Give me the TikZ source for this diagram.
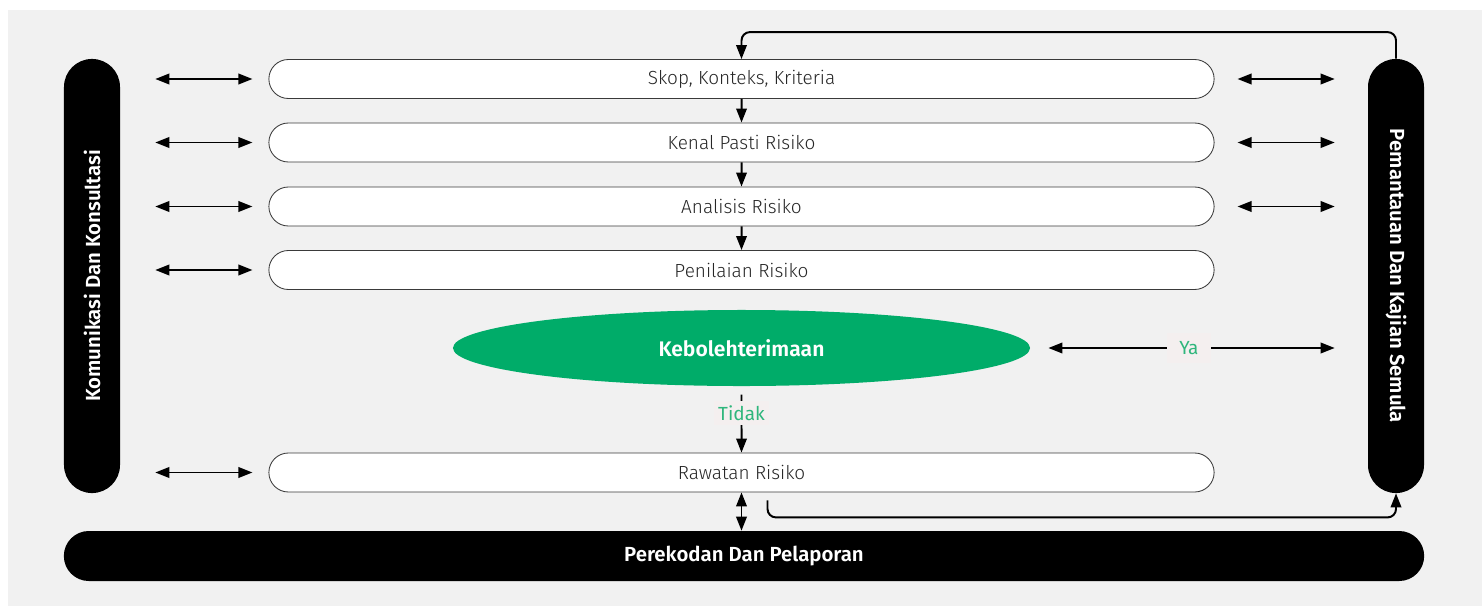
\documentclass[tikz,border=0pt]{standalone}
\usepackage{fontspec}
\setmainfont{Fira Sans}[UprightFont=* Light, BoldFont=* SemiBold]
\newfontfamily\answerfont{Fira Sans}
\usetikzlibrary{arrows.meta, shapes.misc, shapes.geometric, positioning}
\usepackage{xcolor}
\definecolor{panelgray}{HTML}{F1F1F1}
\definecolor{acceptgreen}{HTML}{00AC69}
\definecolor{answergreen}{HTML}{2FB67C}
\definecolor{answerbg}{HTML}{F4EFEF}
\definecolor{rimgray}{HTML}{3A3A3A}

\begin{document}
\begin{tikzpicture}[x=0.025cm, y=-0.025cm]
        % Define the styles
        \tikzstyle{stage}=[rounded rectangle, draw=rimgray, line width=0.6pt, fill=white, text=black!85, minimum width=23.625cm, minimum height=0.975cm, inner sep=0pt, font=\fontsize{13.5}{16}\selectfont]
        \tikzstyle{band}=[rounded rectangle, fill=black, text=white, inner sep=0pt, font=\bfseries\fontsize{14.5}{17}\selectfont]
        \tikzstyle{link}=[line width=1.4pt, -{Triangle[length=10pt, width=7.5pt]}]
        \tikzstyle{twoway}=[line width=1.4pt, {Triangle[length=10pt, width=7.5pt]}-{Triangle[length=10pt, width=7.5pt]}]
        \tikzstyle{answer}=[fill=answerbg, text=answergreen, inner sep=3pt, font=\answerfont\fontsize{13.5}{16}\selectfont]

        % Panel and page size
        \useasboundingbox (0,0) rectangle (1482,606);
        \fill[panelgray] (8,10) rectangle (1482,606);

        % Side and bottom bands
        \node (kom)[band, minimum width=10.85cm, minimum height=1.4cm, rotate=90] at (92,276) {Komunikasi Dan Konsultasi};
        \node (pem)[band, minimum width=10.85cm, minimum height=1.4cm, rotate=-90] at (1396,276) {Pemantauan Dan Kajian Semula};
        \node (rek)[band, minimum width=34cm, minimum height=1.25cm] at (744,556) {Perekodan Dan Pelaporan};

        % Process stages
        \node (skop)[stage] at (741.5,79) {Skop, Konteks, Kriteria};
        \node (kenal)[stage] at (741.5,142.5) {Kenal Pasti Risiko};
        \node (analisis)[stage] at (741.5,206.5) {Analisis Risiko};
        \node (penilaian)[stage] at (741.5,270) {Penilaian Risiko};
        \node (terima)[ellipse, fill=acceptgreen, text=white, minimum width=14.425cm, minimum height=1.9cm, inner sep=0pt, font=\bfseries\fontsize{15}{18}\selectfont] at (741.5,348) {Kebolehterimaan};
        \node (rawatan)[stage] at (741.5,472.5) {Rawatan Risiko};

        % Flow down the stages
        \draw[link] (skop) -- (kenal);
        \draw[link] (kenal) -- (analisis);
        \draw[link] (analisis) -- (penilaian);
        \draw[link, shorten <=6pt] (terima) -- (rawatan) node[answer, pos=0.4] {Tidak};
        \draw[twoway] (rawatan.south) -- (rawatan.south |- rek.north);

        % Links to the communication band
        \foreach \s in {skop, kenal, analisis, penilaian, rawatan}
            \draw[twoway, shorten <=0.875cm, shorten >=0.4cm] (kom.south |- \s.west) -- (\s.west);

        % Links to the monitoring band
        \foreach \s in {skop, kenal, analisis}
            \draw[twoway, shorten <=0.575cm, shorten >=0.825cm] (\s.east) -- (pem.south |- \s.east);
        \draw[twoway, shorten <=0.45cm, shorten >=0.825cm] (terima.east) -- (pem.south |- terima.east) node[answer, pos=0.47, inner xsep=9pt, inner ysep=6pt] {Ya};

        % Feedback loops
        \coordinate (over) at ([yshift=0.675cm]skop.north);
        \draw[link, rounded corners=6pt] (pem.west) |- (over) -- (skop.north);
        \draw[link, rounded corners=6pt] ([xshift=0.65cm, yshift=-0.2cm]rawatan.south) -- ++(0,17) -| (pem.east);
    \end{tikzpicture}
\end{document}
